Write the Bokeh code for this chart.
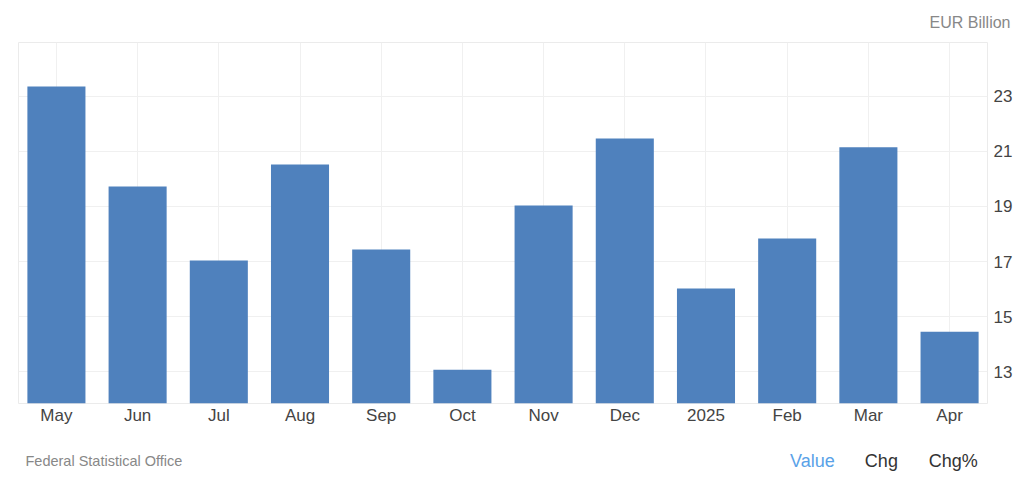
from bokeh.plotting import figure
from bokeh.models import Range1d, FactorRange, Title
from bokeh.layouts import column
from bokeh.core.properties import value
from bokeh.embed import file_html
from bokeh.resources import INLINE

months = ["May", "Jun", "Jul", "Aug", "Sep", "Oct", "Nov", "Dec", "2025", "Feb", "Mar", "Apr"]
values = [23.36, 19.73, 17.04, 20.53, 17.44, 13.07, 19.04, 21.47, 16.02, 17.84, 21.15, 14.45]
y_ticks = [13, 15, 17, 19, 21, 23]
unit_label = "EUR Billion"
source_label = "Federal Statistical Office"
tabs = ["Value", "Chg", "Chg%"]

FONT = "Liberation Sans"

p = figure(x_range=FactorRange(*months, range_padding=-0.0055), y_range=Range1d(11.84, 24.96),
           frame_width=969, frame_height=361, output_backend="svg", toolbar_location=None,
           y_axis_location="right", min_border_left=18, min_border_top=42,
           min_border_bottom=40, min_border_right=0)

p.vbar(x=months, top=values, bottom=0, width=0.715, color="#4f81bd", line_color=None)

p.outline_line_color = "#ebebeb"
p.xgrid.grid_line_color = "#f0f0f0"
p.ygrid.grid_line_color = "#f0f0f0"
p.yaxis.ticker = y_ticks
for ax in (p.xaxis[0], p.yaxis[0]):
    ax.axis_line_color = None
    ax.major_tick_line_color = None
    ax.minor_tick_line_color = None
    ax.major_tick_out = 0
    ax.major_tick_in = 0
    ax.minor_tick_out = 0
    ax.major_label_text_font = FONT
    ax.major_label_text_font_size = "17px"
    ax.major_label_text_color = "#444444"
p.xaxis.major_label_standoff = 2
p.yaxis.major_label_standoff = 6

p.title = Title(text=unit_label, align="right", text_font=FONT, text_font_size="16px",
                text_color="#888888", text_font_style="normal", offset=-23, standoff=20,
                vertical_align="top")

W = p.frame_width + 18 + 25
footer = figure(width=W, height=39, x_range=Range1d(18, 987), y_range=Range1d(0, 39),
                output_backend="svg", toolbar_location=None, min_border=0)
footer.axis.visible = False
footer.grid.visible = False
footer.outline_line_color = None
footer.text(x=[25], y=[22], text=[source_label], text_font=value(FONT),
            text_font_size="14.5px", text_color="#888888", text_baseline="middle")
tab_x = [792, 867, 931]
tab_col = ["#5aa2e8", "#333333", "#333333"]
footer.text(x=tab_x, y=[22] * 3, text=tabs, text_font=value(FONT),
            text_font_size="18px", text_color=tab_col, text_baseline="middle")

open("out.html", "w").write(file_html(column(p, footer, spacing=0), INLINE))
